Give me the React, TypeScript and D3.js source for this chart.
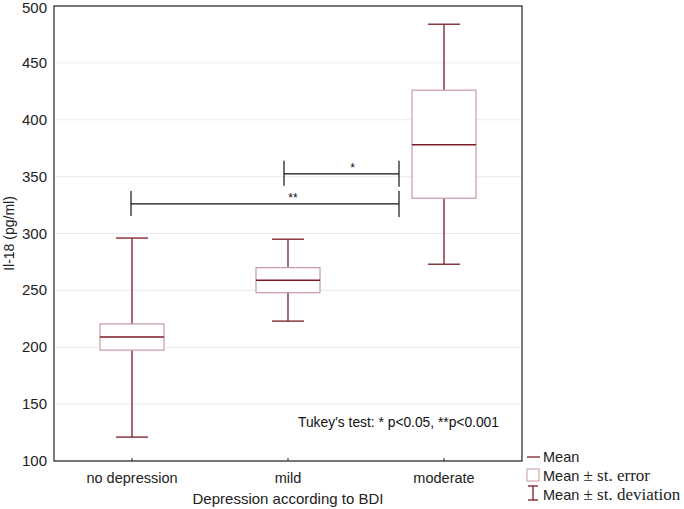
import * as d3 from "d3";

const groups = ["no depression", "mild", "moderate"];
const means = [209, 259, 378];
const seLow = [197.5, 248, 331];
const seHigh = [220.5, 270, 426];
const sdLow = [121, 223, 273];
const sdHigh = [296, 295, 484];
const yTicks = [100, 150, 200, 250, 300, 350, 400, 450, 500];

const brackets = [
  { from: 1, to: 2, value: 352.5, label: "*" },
  { from: 0, to: 2, value: 326, label: "**" },
];

const W = 684;
const H = 509;
const margin = { top: 6, right: 162, bottom: 48, left: 54 };

const dark = "#7a1c22";
const pink = "#c99aa0";
const sans = "Arial, 'Liberation Sans', sans-serif";
const serif = "'Times New Roman', 'Liberation Serif', serif";

export default function App() {
  const x0 = margin.left;
  const x1 = W - margin.right;
  const y0 = margin.top;
  const y1 = H - margin.bottom;

  const x = d3.scalePoint<string>().domain(groups).range([x0, x1]).padding(0.5);
  const y = d3.scaleLinear().domain([100, 500]).range([y1, y0]);

  const boxW = 64;
  const capW = 32;

  return (
    <svg width={W} height={H} style={{ position: "absolute", left: 0, top: 0, background: "#fff" }}>
      {/* grid */}
      {yTicks.map((t) => (
        <line key={t} x1={x0} x2={x1} y1={y(t)} y2={y(t)} stroke="#ececec" strokeWidth={1} />
      ))}
      {/* y labels */}
      {yTicks.map((t) => (
        <text
          key={t}
          x={x0 - 7}
          y={Math.max(y(t) + 5, 13)}
          textAnchor="end"
          fontFamily={sans}
          fontSize={15}
          fill="#222"
        >
          {t}
        </text>
      ))}
      <text
        transform={`translate(14,${(y0 + y1) / 2}) rotate(-90)`}
        textAnchor="middle"
        fontFamily={sans}
        fontSize={14}
        fill="#222"
      >
        Il-18 (pg/ml)
      </text>

      {/* boxes */}
      {groups.map((g, i) => {
        const cx = x(g)!;
        return (
          <g key={g}>
            <line x1={cx} x2={cx} y1={y(sdHigh[i])} y2={y(seHigh[i])} stroke={dark} strokeWidth={1.3} />
            <line x1={cx} x2={cx} y1={y(seLow[i])} y2={y(sdLow[i])} stroke={dark} strokeWidth={1.3} />
            <line x1={cx - capW / 2} x2={cx + capW / 2} y1={y(sdHigh[i])} y2={y(sdHigh[i])} stroke={dark} strokeWidth={1.3} />
            <line x1={cx - capW / 2} x2={cx + capW / 2} y1={y(sdLow[i])} y2={y(sdLow[i])} stroke={dark} strokeWidth={1.3} />
            <rect
              x={cx - boxW / 2}
              y={y(seHigh[i])}
              width={boxW}
              height={y(seLow[i]) - y(seHigh[i])}
              fill="#fff"
              stroke={pink}
              strokeWidth={1.2}
            />
            <line x1={cx - boxW / 2} x2={cx + boxW / 2} y1={y(means[i])} y2={y(means[i])} stroke={dark} strokeWidth={1.5} />
          </g>
        );
      })}

      {/* significance brackets */}
      {brackets.map((b) => {
        const a = x(groups[b.from])! - (b.label === "*" ? 4 : 1);
        const c = x(groups[b.to])! - 45;
        const yy = y(b.value);
        return (
          <g key={b.label}>
            <line x1={a} x2={c} y1={yy} y2={yy} stroke="#111" strokeWidth={1.2} />
            <line x1={a} x2={a} y1={yy - 13} y2={yy + 12} stroke="#111" strokeWidth={1.2} />
            <line x1={c} x2={c} y1={yy - 13} y2={yy + 13} stroke="#111" strokeWidth={1.2} />
            <text
              x={b.label === "*" ? (a + c) / 2 + 11 : a + 162}
              y={yy - 2}
              textAnchor="middle"
              fontFamily={sans}
              fontSize={12}
              fill="#111"
            >
              {b.label}
            </text>
          </g>
        );
      })}

      <text x={298} y={427} fontFamily={sans} fontSize={13.8} fill="#111">
        Tukey’s test: * p&lt;0.05, **p&lt;0.001
      </text>

      {/* frame */}
      <rect x={x0} y={y0} width={x1 - x0} height={y1 - y0} fill="none" stroke="#222" strokeWidth={1.2} />
      {groups.map((g) => (
        <line key={g} x1={x(g)!} x2={x(g)!} y1={y1} y2={y1 - 3} stroke="#222" strokeWidth={1} />
      ))}
      {groups.map((g) => (
        <text key={g} x={x(g)!} y={y1 + 22} textAnchor="middle" fontFamily={sans} fontSize={14.5} fill="#222">
          {g}
        </text>
      ))}
      <text x={(x0 + x1) / 2} y={y1 + 43} textAnchor="middle" fontFamily={sans} fontSize={15} fill="#222">
        Depression according to BDI
      </text>

      {/* legend */}
      <g>
        <line x1={527} x2={540} y1={457} y2={457} stroke={dark} strokeWidth={1.3} />
        <text x={543} y={462} fontFamily={sans} fontSize={14.5} fill="#222">
          Mean
        </text>
        <rect x={527} y={469} width={12} height={12} fill="#fff" stroke={pink} strokeWidth={1} />
        <text x={543} y={481} fontFamily={sans} fontSize={14.5} fill="#222">
          Mean<tspan fontFamily={serif} fontSize={17}> ± st. error</tspan>
        </text>
        <line x1={533} x2={533} y1={486} y2={500} stroke={dark} strokeWidth={1.3} />
        <line x1={528} x2={538} y1={486} y2={486} stroke={dark} strokeWidth={1.3} />
        <line x1={528} x2={538} y1={500} y2={500} stroke={dark} strokeWidth={1.3} />
        <text x={543} y={500} fontFamily={sans} fontSize={14.5} fill="#222">
          Mean<tspan fontFamily={serif} fontSize={17}> ± st. deviation</tspan>
        </text>
      </g>
    </svg>
  );
}
